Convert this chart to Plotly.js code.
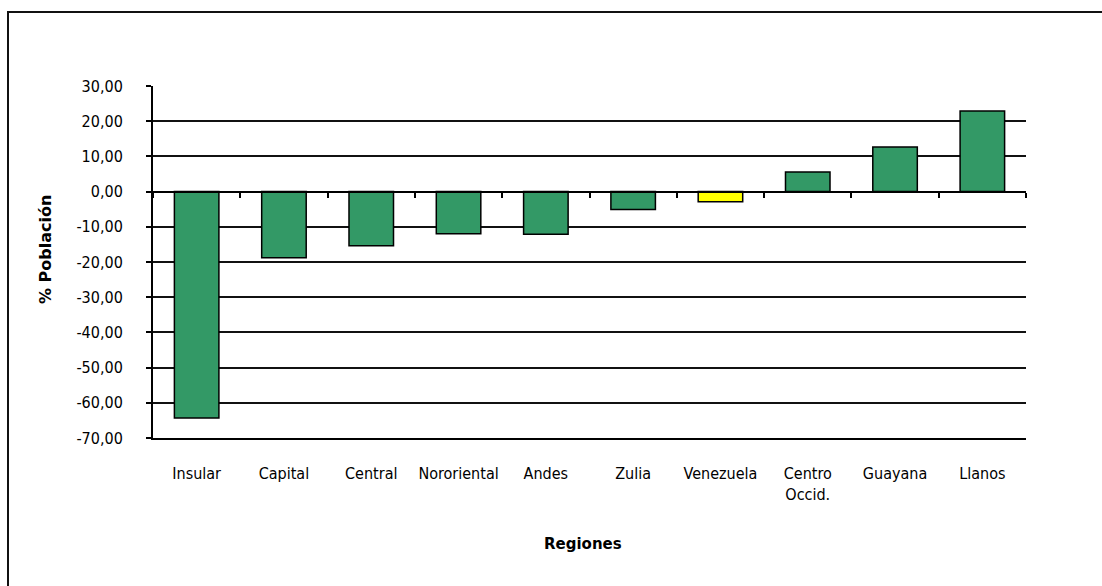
<!DOCTYPE html>
<html>
<head>
<meta charset="utf-8">
<script src="https://cdn.plot.ly/plotly-3.0.1.min.js"></script>
<style>
  html, body { margin: 0; padding: 0; background: #fff; overflow: hidden; }
  #wrap { position: relative; width: 1102px; height: 586px; overflow: hidden; }
  #frame { position: absolute; left: 7px; top: 11px; width: 1200px; height: 700px;
           border-top: 2px solid #111; border-left: 2px solid #111; box-sizing: border-box; }
  #chart { position: absolute; left: 0; top: 0; width: 1102px; height: 586px; }
</style>
</head>
<body>
<div id="wrap">
  <div id="frame"></div>
  <div id="chart"></div>
</div>
<script>
const regions = ["Insular", "Capital", "Central", "Nororiental", "Andes", "Zulia", "Venezuela", "Centro<br>Occid.", "Guayana", "Llanos"];
const values = [-64.3, -18.8, -15.4, -12.0, -12.1, -5.1, -2.9, 5.6, 12.7, 22.9];
const barColors = ["#339966", "#339966", "#339966", "#339966", "#339966", "#339966", "#FFFF00", "#339966", "#339966", "#339966"];
const yTicks = [30, 20, 10, 0, -10, -20, -30, -40, -50, -60, -70];
const yTickText = ["30,00", "20,00", "10,00", "0,00", "-10,00", "-20,00", "-30,00", "-40,00", "-50,00", "-60,00", "-70,00"];
const yTitle = "% Población";
const xTitle = "Regiones";

const tickFont = { family: "Liberation Sans Narrow, Arial Narrow, DejaVu Sans Condensed, sans-serif", size: 16, color: "#000" };
const yTitleFont = { family: "DejaVu Sans, Verdana, sans-serif", size: 16, color: "#000", weight: "bold" };
const xTitleFont = { family: "DejaVu Sans, Verdana, sans-serif", size: 15, color: "#000", weight: "bold" };

const traces = [
  {
    type: "bar",
    x: regions,
    y: values,
    marker: { color: barColors, line: { color: "#000", width: 1.5 } },
    hoverinfo: "x+y",
    xaxis: "x",
    yaxis: "y"
  },
  {
    type: "scatter",
    x: regions,
    y: values.map(() => 0),
    mode: "none",
    hoverinfo: "skip",
    showlegend: false,
    xaxis: "x2",
    yaxis: "y"
  }
];

const layout = {
  width: 1102,
  height: 586,
  paper_bgcolor: "rgba(0,0,0,0)",
  plot_bgcolor: "rgba(0,0,0,0)",
  margin: { l: 153, r: 76, t: 86, b: 148 },
  showlegend: false,
  bargap: 0.49,
  xaxis: {
    type: "category",
    categoryarray: regions,
    range: [-0.5, regions.length - 0.5],
    showgrid: false,
    zeroline: false,
    showline: true,
    linecolor: "#000",
    linewidth: 2,
    ticks: "",
    ticklabelstandoff: 20,
    tickfont: tickFont,
    fixedrange: true
  },
  xaxis2: {
    type: "category",
    categoryarray: regions,
    range: [-0.5, regions.length - 0.5],
    overlaying: "x",
    anchor: "free",
    position: 0.7,
    side: "bottom",
    showgrid: false,
    zeroline: false,
    showline: true,
    linecolor: "#000",
    linewidth: 2,
    ticks: "outside",
    tickson: "boundaries",
    ticklen: 5,
    tickwidth: 2,
    tickcolor: "#000",
    showticklabels: false,
    fixedrange: true
  },
  yaxis: {
    range: [-70, 30],
    tickvals: yTicks,
    ticktext: yTickText,
    showgrid: true,
    gridcolor: "#111",
    gridwidth: 2,
    zeroline: true,
    zerolinecolor: "#000",
    zerolinewidth: 2,
    showline: true,
    linecolor: "#000",
    linewidth: 2,
    ticks: "outside",
    ticklen: 5,
    tickwidth: 2,
    tickcolor: "#000",
    ticklabelstandoff: 20,
    tickfont: tickFont,
    fixedrange: true
  },
  annotations: [
    {
      text: yTitle, xref: "paper", yref: "paper", x: 0, y: 0.5,
      xanchor: "center", yanchor: "middle", xshift: -108, yshift: 12,
      textangle: -90, showarrow: false, font: yTitleFont
    },
    {
      text: xTitle, xref: "paper", yref: "paper", x: 0.5, y: 0,
      xanchor: "center", yanchor: "middle", xshift: -7, yshift: -106,
      showarrow: false, font: xTitleFont
    }
  ]
};

Plotly.newPlot("chart", traces, layout, { displayModeBar: false, staticPlot: true });
</script>
</body>
</html>
